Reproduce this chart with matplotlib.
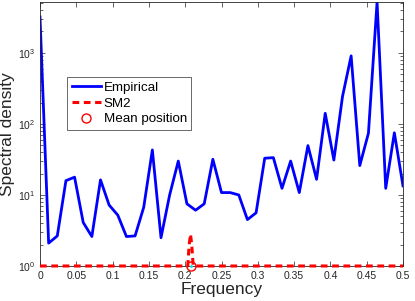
import numpy as np
import matplotlib
matplotlib.use("Agg")
import matplotlib.pyplot as plt

plt.rcParams['font.family'] = ['Liberation Sans', 'DejaVu Sans']
plt.rcParams['mathtext.fontset'] = 'custom'
plt.rcParams['mathtext.rm'] = 'Liberation Sans'

# ===========================================================================
# data
freq = np.linspace(0, 0.5, 43)
empirical = [3200, 2.1, 2.65, 15.9, 17.8, 4.1, 2.6, 16.3, 7.2, 5.2,
             2.6, 2.65, 6.7, 43, 2.5, 10, 30, 7.5, 6.1, 7.5,
             31.8, 10.8, 10.8, 10, 4.5, 5.6, 32.9, 33.5, 12.4, 30,
             10.8, 49.5, 16.6, 141, 31, 243, 908, 25.9, 74, 5200,
             12.4, 75, 13.4]

sm2_freq = [0, 0.2035, 0.2055, 0.2073, 0.209, 0.211, 0.5]
sm2_val = [1, 1, 2.0, 2.8, 2.0, 1, 1]

mean_pos = 0.208
mean_val = 1

# ===========================================================================
fig = plt.figure(figsize=(4.15, 3.01), dpi=100)
ax = fig.add_axes([40/415, 35/301, 363/415, 264/301])

ax.plot(freq, empirical, color='#0000ff', lw=2, label='Empirical')
ax.plot(sm2_freq, sm2_val, color='#ff0000', lw=2.2, ls=(0, (2.2, 1.5)),
        label='SM2', clip_on=False, zorder=4)
ax.plot([mean_pos], [mean_val], 'o', mfc='none', mec='#ff0000', ms=6.5,
        mew=1, label='Mean position', clip_on=False, zorder=5)
ax.plot([mean_pos], [mean_val], '.', color='#00e5e5', ms=2, clip_on=False,
        zorder=6)

ax.set_yscale('log')
ax.set_xlim(0, 0.5)
ax.set_ylim(1, 5200)
ax.set_xticks(np.arange(0, 0.51, 0.05))
ax.set_xticklabels(['0', '0.05', '0.1', '0.15', '0.2', '0.25', '0.3',
                    '0.35', '0.4', '0.45', '0.5'])

dark = '#262626'
for s in ax.spines.values():
    s.set_color(dark)
    s.set_linewidth(0.6)
    s.set_zorder(2)
ax.tick_params(which='both', direction='in', top=True, right=True,
               colors=dark, labelsize=7.5, width=0.5)
ax.tick_params(which='major', length=3.5)
ax.tick_params(which='minor', length=2)

ax.set_xlabel('Frequency', fontsize=12.5, color=dark, labelpad=1)
ax.set_ylabel('Spectral density', fontsize=12.5, color=dark, labelpad=2)

leg = ax.legend(loc='upper left', bbox_to_anchor=(0.074, 0.716),
                fontsize=9.6, frameon=True, fancybox=False, handlelength=2.2,
                handletextpad=0.2, borderpad=0.35, labelspacing=0.25,
                borderaxespad=0)
leg.get_frame().set_edgecolor(dark)
leg.get_frame().set_linewidth(0.6)

fig.savefig('out.png', dpi=100)
